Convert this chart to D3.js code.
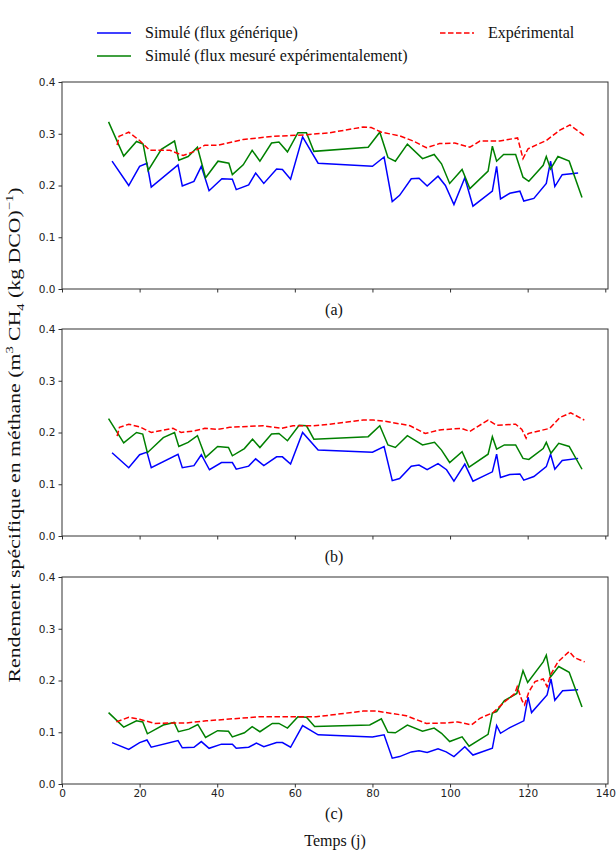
<!DOCTYPE html>
<html>
<head>
<meta charset="utf-8">
<script src="https://cdn.jsdelivr.net/npm/d3@7"></script>
<style>
  body { margin: 0; background: #fff; }
  .tick text { font-family: "DejaVu Sans", sans-serif; font-size: 10.5px; fill: #222; }
  .serif { font-family: "Liberation Serif", "Times New Roman", serif; fill: #111; }
</style>
</head>
<body>
<svg id="chart" width="616" height="863"></svg>
<script>
// [day, yield] pairs
const blueA = [[12.9,0.247],[17.2,0.200],[20,0.237],[21.9,0.243],[23,0.197],[29.9,0.240],[31,0.199],[34,0.208],[35.9,0.237],[37.9,0.190],[41.2,0.213],[43.9,0.212],[44.9,0.192],[48.1,0.201],[49.9,0.224],[52,0.204],[55.3,0.232],[56.8,0.231],[58.9,0.212],[62,0.294],[66,0.243],[80,0.237],[83,0.255],[85.1,0.169],[87,0.181],[90,0.213],[92,0.214],[94.1,0.199],[96.9,0.218],[98.8,0.200],[101,0.163],[103.8,0.215],[105.9,0.160],[110.9,0.189],[112,0.237],[113,0.174],[115.4,0.185],[118,0.189],[119,0.170],[121.6,0.175],[124.8,0.204],[125.9,0.247],[127,0.198],[128.9,0.221],[133,0.224]];
const greenA = [[12,0.323],[15.9,0.257],[19.2,0.285],[20.9,0.280],[22.2,0.229],[25.6,0.270],[29,0.286],[30.1,0.249],[32.5,0.256],[34.9,0.274],[37,0.215],[40.2,0.247],[43,0.243],[43.9,0.221],[46.7,0.240],[49,0.268],[51,0.247],[54,0.282],[55.9,0.284],[58.1,0.265],[60.8,0.302],[63,0.302],[64.9,0.266],[78.9,0.274],[81.9,0.303],[84,0.254],[85.9,0.247],[89,0.280],[92.9,0.252],[95.9,0.260],[97.8,0.242],[99.9,0.204],[103.1,0.231],[105.1,0.194],[109.8,0.228],[110.9,0.276],[112,0.247],[113.8,0.260],[116.9,0.260],[118.8,0.216],[120.3,0.208],[124,0.239],[124.8,0.256],[125.9,0.232],[127.8,0.256],[130.7,0.247],[134,0.177]];
const redA = [[14.2,0.278],[14.7,0.295],[17.2,0.303],[20,0.287],[22.6,0.268],[27.8,0.268],[31.2,0.258],[33.8,0.265],[36.8,0.278],[40.2,0.278],[46.7,0.289],[54.4,0.295],[63,0.298],[69,0.302],[77.6,0.313],[79.7,0.312],[82.3,0.303],[87,0.296],[90.5,0.286],[93.9,0.273],[97.3,0.281],[101.2,0.282],[105.1,0.274],[107.7,0.286],[112.8,0.286],[117.4,0.292],[118.8,0.252],[120.1,0.271],[124.8,0.287],[128.3,0.307],[130.9,0.317],[134.5,0.297]];

const blueB = [[12.9,0.161],[17.2,0.132],[20,0.157],[21.9,0.162],[23,0.132],[29.9,0.158],[31,0.132],[34,0.136],[35.9,0.157],[38,0.128],[41.1,0.142],[43.9,0.142],[44.9,0.129],[48.1,0.135],[49.9,0.149],[52,0.136],[55.3,0.153],[56.8,0.153],[58.9,0.139],[62,0.200],[66,0.166],[80,0.162],[83,0.173],[85.1,0.107],[87,0.111],[90,0.135],[92,0.137],[94.1,0.128],[96.9,0.140],[99.1,0.128],[101,0.106],[103.8,0.139],[105.9,0.106],[110.9,0.124],[112,0.158],[113,0.113],[115.4,0.119],[118,0.120],[119,0.108],[121.6,0.115],[124.8,0.134],[125.9,0.158],[127,0.129],[128.9,0.146],[133,0.150]];
const greenB = [[12,0.227],[15.9,0.180],[19.2,0.200],[20.8,0.197],[22,0.161],[26.1,0.190],[29,0.200],[30.1,0.173],[32.5,0.181],[34.9,0.194],[37,0.152],[40.1,0.173],[42.9,0.171],[43.9,0.155],[47,0.169],[49.1,0.187],[51,0.171],[54,0.197],[55.9,0.198],[58.1,0.184],[61.1,0.214],[63,0.213],[64.9,0.187],[78.9,0.192],[81.9,0.213],[84,0.176],[85.9,0.171],[89,0.194],[92.9,0.176],[96,0.181],[97.8,0.166],[99.9,0.142],[103.1,0.163],[104.9,0.133],[109.8,0.158],[110.9,0.192],[112,0.168],[114,0.176],[116.9,0.176],[118.8,0.150],[120.3,0.148],[124,0.169],[124.8,0.181],[126,0.160],[128,0.179],[130.7,0.173],[134,0.129]];
const redB = [[14.2,0.193],[14.8,0.210],[17.2,0.216],[20,0.211],[23,0.200],[28.6,0.208],[30.7,0.200],[34,0.203],[36.8,0.208],[40.2,0.206],[43.2,0.210],[51.8,0.213],[56.5,0.208],[59.5,0.213],[64.7,0.213],[69,0.216],[77.6,0.224],[80.2,0.224],[83.2,0.222],[89.7,0.213],[93.6,0.198],[97.3,0.205],[102.9,0.208],[105.1,0.202],[109.8,0.224],[112,0.214],[116.9,0.216],[118.5,0.206],[119.6,0.189],[120.1,0.198],[125.7,0.208],[128.3,0.229],[131.1,0.238],[134.6,0.224]];

const blueC = [[12.9,0.080],[17.2,0.067],[20,0.080],[21.9,0.085],[23,0.071],[29.9,0.084],[31,0.070],[34,0.071],[35.9,0.082],[37.9,0.069],[41.1,0.077],[43.9,0.077],[44.9,0.069],[48.1,0.071],[50.1,0.079],[52,0.072],[55.3,0.080],[56.8,0.080],[58.9,0.071],[62,0.113],[66,0.095],[80,0.091],[83,0.095],[85.1,0.050],[87,0.053],[90,0.062],[92,0.064],[94.1,0.061],[96.9,0.068],[99,0.062],[101,0.053],[103.8,0.072],[105.9,0.056],[110.9,0.069],[112,0.113],[113,0.098],[115.4,0.109],[119,0.122],[120.1,0.168],[121,0.138],[125,0.172],[126,0.203],[127,0.162],[129,0.180],[133,0.182]];
const greenC = [[12,0.138],[15.9,0.110],[19.2,0.122],[20.8,0.120],[22,0.097],[26.1,0.114],[28.9,0.119],[30,0.101],[32.7,0.106],[35,0.115],[37,0.090],[40.1,0.103],[42.9,0.102],[43.9,0.091],[47,0.099],[49,0.111],[51,0.101],[54.2,0.117],[55.9,0.117],[58.1,0.108],[60.8,0.130],[63,0.129],[65.1,0.111],[79.3,0.114],[82.3,0.126],[84,0.100],[85.9,0.099],[89,0.114],[92.9,0.102],[95.9,0.108],[97.8,0.098],[99.9,0.082],[103.1,0.091],[104.9,0.073],[109.8,0.096],[110.9,0.137],[112,0.140],[114,0.161],[117.2,0.175],[118.8,0.219],[120,0.196],[124,0.236],[124.8,0.249],[125.9,0.207],[128,0.227],[130.7,0.216],[134,0.149]];
const redC = [[14,0.120],[17.2,0.129],[20,0.125],[23.9,0.117],[28.6,0.118],[32,0.118],[37.2,0.122],[44,0.126],[51,0.130],[59.5,0.130],[65.5,0.130],[69,0.133],[77.6,0.141],[81,0.141],[88.7,0.132],[93.9,0.117],[99,0.118],[102,0.120],[105.5,0.114],[107.7,0.127],[111.1,0.138],[114.1,0.159],[116.7,0.175],[117.3,0.188],[118.5,0.162],[119.2,0.153],[120.3,0.178],[121.9,0.198],[124,0.203],[125,0.188],[125.9,0.211],[127.8,0.236],[130.7,0.256],[132.1,0.244],[134.7,0.236]];

const panelLabels = ["(a)", "(b)", "(c)"];
const xTicks = [0, 20, 40, 60, 80, 100, 120, 140];
const yTicks = [0.0, 0.1, 0.2, 0.3, 0.4];

const BLUE = "#0000ff", GREEN = "#008000", RED = "#ff0000";

const svg = d3.select("#chart");
const left = 62, right = 608;
const panelTops = [82, 329, 577];
const panelH = 207;

const x = d3.scaleLinear().domain([0, 140.7]).range([left, right]);

const panels = [
  { blue: blueA, green: greenA, red: redA },
  { blue: blueB, green: greenB, red: redB },
  { blue: blueC, green: greenC, red: redC }
];

panels.forEach((p, i) => {
  const top = panelTops[i];
  const y = d3.scaleLinear().domain([0, 0.4]).range([top + panelH, top]);
  const g = svg.append("g");

  const line = d3.line().x(d => x(d[0])).y(d => y(d[1]));

  g.append("path").datum(p.blue).attr("d", line)
    .attr("fill", "none").attr("stroke", BLUE).attr("stroke-width", 1.5);
  g.append("path").datum(p.green).attr("d", line)
    .attr("fill", "none").attr("stroke", GREEN).attr("stroke-width", 1.5);
  g.append("path").datum(p.red).attr("d", line)
    .attr("fill", "none").attr("stroke", RED).attr("stroke-width", 1.5)
    .attr("stroke-dasharray", "5.5,2.5");

  // frame
  g.append("rect")
    .attr("x", left).attr("y", top)
    .attr("width", right - left).attr("height", panelH)
    .attr("fill", "none").attr("stroke", "#333").attr("stroke-width", 1);

  // y axis
  const ya = g.append("g").attr("transform", `translate(${left},0)`)
    .call(d3.axisLeft(y).tickValues(yTicks).tickFormat(d3.format(".1f")).tickSize(3.5).tickPadding(3));
  ya.select(".domain").remove();
  ya.selectAll(".tick line").attr("stroke", "#333");

  // x axis
  const xa = g.append("g").attr("transform", `translate(0,${top + panelH})`)
    .call(d3.axisBottom(x).tickValues(xTicks).tickSize(3.5).tickPadding(2));
  xa.select(".domain").remove();
  xa.selectAll(".tick line").attr("stroke", "#333");
  if (i < 2) xa.selectAll(".tick text").remove();

  const labelY = i < 2 ? top + panelH + 26 : top + panelH + 35;
  svg.append("text").attr("class", "serif")
    .attr("x", (left + right) / 2 - 1).attr("y", labelY)
    .attr("text-anchor", "middle").attr("font-size", 16)
    .text(panelLabels[i]);
});

// x label
svg.append("text").attr("class", "serif")
  .attr("x", (left + right) / 2).attr("y", 846)
  .attr("text-anchor", "middle").attr("font-size", 16)
  .text("Temps (j)");

// y label
const yl = svg.append("text").attr("class", "serif")
  .attr("transform", "translate(20,435) rotate(-90)")
  .attr("text-anchor", "middle").attr("font-size", 16.5)
  .attr("textLength", 495).attr("lengthAdjust", "spacingAndGlyphs");
yl.append("tspan").text("Rendement spécifique en méthane (m");
yl.append("tspan").attr("dy", -7).attr("font-size", 11).text("3");
yl.append("tspan").attr("dy", 7).text(" CH");
yl.append("tspan").attr("dy", 4).attr("font-size", 11).text("4");
yl.append("tspan").attr("dy", -4).text(" (kg DCO)");
yl.append("tspan").attr("dy", -7).attr("font-size", 11).text("−1");
yl.append("tspan").attr("dy", 7).text(")");

// legend
const legend = [
  { label: "Simulé (flux générique)", color: BLUE, dash: null, x: 97, y: 33 },
  { label: "Simulé (flux mesuré expérimentalement)", color: GREEN, dash: null, x: 97, y: 56 },
  { label: "Expérimental", color: RED, dash: "5.5,2.5", x: 440, y: 33 }
];
legend.forEach(l => {
  svg.append("line")
    .attr("x1", l.x).attr("x2", l.x + 34).attr("y1", l.y).attr("y2", l.y)
    .attr("stroke", l.color).attr("stroke-width", 1.5)
    .attr("stroke-dasharray", l.dash);
  svg.append("text").attr("class", "serif")
    .attr("x", l.x + 48).attr("y", l.y + 5).attr("font-size", 16)
    .text(l.label);
});
</script>
</body>
</html>
